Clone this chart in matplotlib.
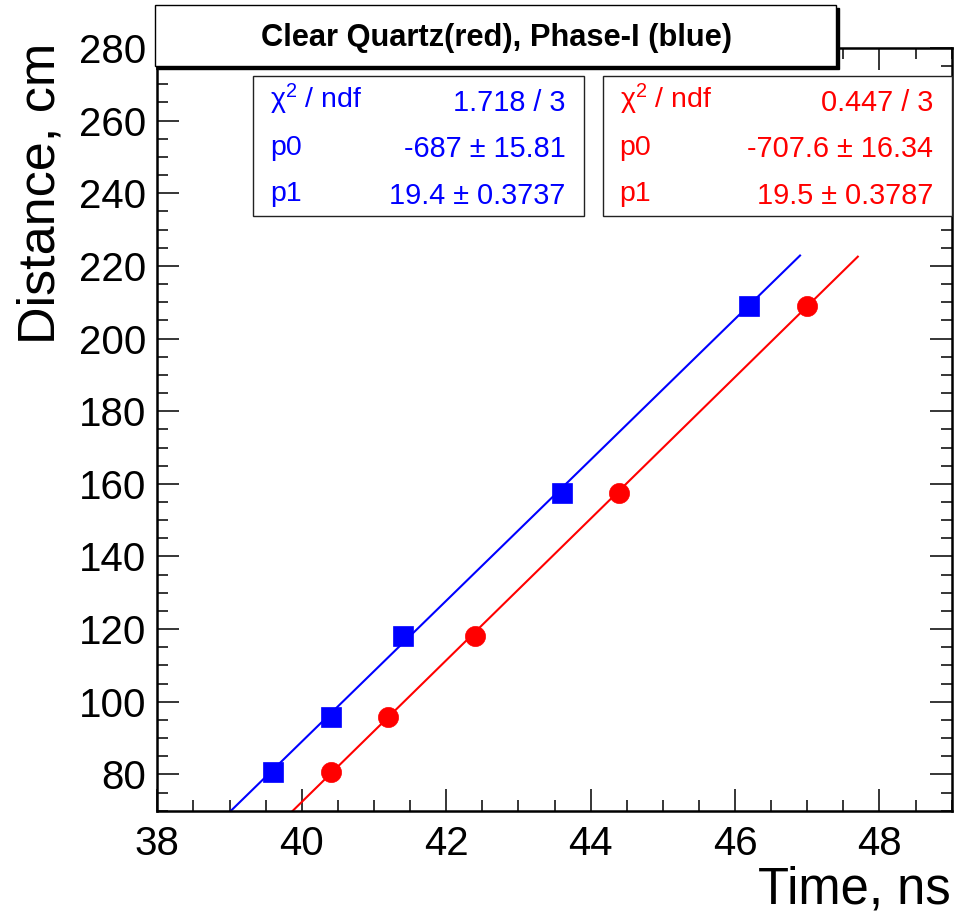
import matplotlib
matplotlib.use("Agg")
import matplotlib.pyplot as plt
import numpy as np
from matplotlib.patches import Rectangle
from matplotlib.ticker import MultipleLocator

# data
distance = [80.7, 95.8, 118.0, 157.4, 209.1]          # cm
time_blue = [39.6, 40.4, 41.4, 43.6, 46.2]            # Phase-I, ns
time_red = [40.4, 41.2, 42.4, 44.4, 47.0]             # Clear Quartz, ns

fit_blue = [-687.0, 19.4]       # p0, p1
fit_red = [-707.6, 19.5]
range_blue = [39.0, 46.9]
range_red = [39.8, 47.7]

stat_labels = ["\u03c7$^{2}$ / ndf", "p0", "p1"]
stat_blue = ["1.718 / 3", "-687 \u00b1 15.81", "19.4 \u00b1 0.3737"]
stat_red = ["0.447 / 3", "-707.6 \u00b1 16.34", "19.5 \u00b1 0.3787"]

title = "Clear Quartz(red), Phase-I (blue)"

W, H = 963, 914
plt.rcParams["font.family"] = ["Liberation Sans", "DejaVu Sans"]
plt.rcParams["mathtext.fontset"] = "custom"
plt.rcParams["mathtext.rm"] = "Liberation Sans"
plt.rcParams["mathtext.it"] = "Liberation Sans:italic"
plt.rcParams["mathtext.default"] = "regular"


def fx(x):
    return x / W


def fy(y):
    return 1 - y / H


fig = plt.figure(figsize=(W / 100, H / 100), dpi=100)
ax = fig.add_axes([fx(157.3), fy(810.7), fx(951.7) - fx(157.3), fy(48) - fy(810.7)])

for t, p, lo_hi, col in [(time_blue, fit_blue, range_blue, "#0000ff"),
                         (time_red, fit_red, range_red, "#ff0000")]:
    xx = np.array(lo_hi)
    ax.plot(xx, p[0] + p[1] * xx, color=col, lw=1.5, zorder=2)

ax.plot(time_blue, distance, "s", color="#0000ff", ms=14, mew=0.5, zorder=3)
ax.plot(time_red, distance, "o", color="#ff0000", ms=14.5, mew=0.5, zorder=3)

ax.set_xlim(38, 49)
ax.set_ylim(70, 280)
ax.xaxis.set_major_locator(MultipleLocator(2))
ax.xaxis.set_minor_locator(MultipleLocator(0.5))
ax.yaxis.set_major_locator(MultipleLocator(20))
ax.yaxis.set_minor_locator(MultipleLocator(5))
ax.tick_params(which="both", direction="in", top=True, right=True, width=1.1, color="black")
ax.tick_params(which="major", length=16, labelsize=29)
ax.tick_params(which="minor", length=8)
ax.tick_params(axis="x", pad=10)
ax.tick_params(axis="y", pad=8)
for s in ax.spines.values():
    s.set_linewidth(1.8)

fig.text(fx(951), fy(903), "Time, ns", fontsize=36.5, ha="right", va="baseline")
fig.text(fx(55), fy(43), "Distance, cm", fontsize=37.5, rotation=90,
         rotation_mode="anchor", ha="right", va="baseline")

# title box with shadow
fig.add_artist(Rectangle((fx(158), fy(69)), fx(836) - fx(155), fy(5) - fy(66),
                         transform=fig.transFigure, facecolor="black", edgecolor="black", zorder=5))
fig.add_artist(Rectangle((fx(155), fy(66)), fx(836) - fx(155), fy(5) - fy(66),
                         transform=fig.transFigure, facecolor="white", edgecolor="black",
                         lw=1.0, zorder=6))
fig.text(fx(496), fy(46), title, fontsize=22.2, fontweight="bold", ha="center",
         va="baseline", zorder=7)

# stat boxes
boxes = [(253.3, 584, stat_blue, "#0000ff"), (602.7, 951.7, stat_red, "#ff0000")]
lab_y = [108, 155, 201]
val_y = [111, 157, 204]
for x0, x1, vals, col in boxes:
    fig.add_artist(Rectangle((fx(x0), fy(215.7)), fx(x1) - fx(x0), fy(76) - fy(215.7),
                             transform=fig.transFigure, facecolor="white",
                             edgecolor="#222222", lw=1.0, zorder=6))
    for i in range(3):
        fig.text(fx(x0 + 17), fy(lab_y[i]), stat_labels[i], color=col, fontsize=20.5,
                 ha="left", va="baseline", zorder=7)
        fig.text(fx(x1 - 18.5), fy(val_y[i]), vals[i], color=col, fontsize=20.8,
                 ha="right", va="baseline", zorder=7)

fig.savefig("out.png", dpi=100)
